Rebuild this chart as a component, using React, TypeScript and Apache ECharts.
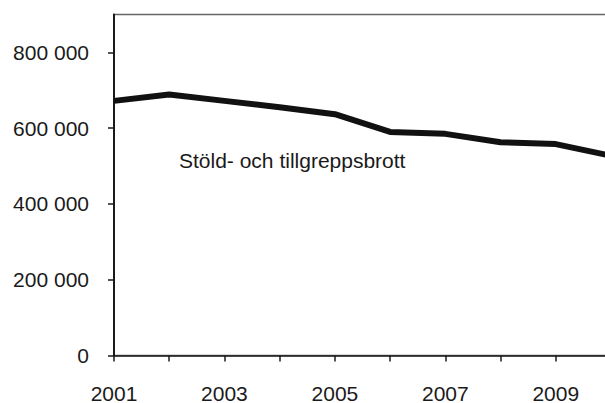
import React, { useEffect, useRef } from "react";
import * as echarts from "echarts";

const years = [2001, 2002, 2003, 2004, 2005, 2006, 2007, 2008, 2009, 2010];
const values = [672000, 689000, 672000, 655000, 637000, 590000, 585000, 563000, 558000, 527000];
const xLabelYears = [2001, 2003, 2005, 2007, 2009];
const yTickValues = [0, 200000, 400000, 600000, 800000];
const seriesName = "Stöld- och tillgreppsbrott";

const fmt = (v: number) => {
  const s = String(Math.round(v));
  return s.replace(/\B(?=(\d{3})+(?!\d))/g, " ");
};

export default function App() {
  const ref = useRef<HTMLDivElement>(null);
  useEffect(() => {
    if (!ref.current) return;
    const chart = echarts.init(ref.current, null, { renderer: "svg" });
    const font = "'Liberation Sans', Arial, sans-serif";
    chart.setOption({
      animation: false,
      backgroundColor: "#ffffff",
      grid: {
        left: 114,
        top: 14.5,
        width: 497,
        height: 341,
        containLabel: false,
        outerBoundsMode: "none",
        show: true,
        borderColor: "#666666",
        borderWidth: 1.5,
        backgroundColor: "transparent",
      },
      xAxis: {
        type: "value",
        min: 2001,
        max: 2010,
        interval: 1,
        axisLine: { show: true, lineStyle: { color: "#1a1a1a", width: 1.5 } },
        axisTick: { show: true, inside: false, length: 6, lineStyle: { color: "#1a1a1a", width: 1.5 } },
        splitLine: { show: false },
        axisLabel: {
          customValues: xLabelYears,
          formatter: (v: number) => String(v),
          fontFamily: font,
          fontSize: 21,
          color: "#1a1a1a",
          margin: 27,
        },
      },
      yAxis: {
        type: "value",
        min: 0,
        max: 900000,
        interval: 200000,
        axisLine: { show: true, lineStyle: { color: "#1a1a1a", width: 2 } },
        axisTick: {
          show: true,
          length: 6,
          customValues: yTickValues,
          lineStyle: { color: "#1a1a1a", width: 1.5 },
        },
        splitLine: { show: false },
        axisLabel: {
          customValues: yTickValues,
          formatter: (v: number) => fmt(v),
          fontFamily: font,
          fontSize: 21,
          color: "#1a1a1a",
          margin: 25,
        },
      },
      graphic: [
        {
          type: "text",
          left: 179,
          top: 150,
          style: {
            text: seriesName,
            fontFamily: font,
            fontSize: 21,
            fill: "#1a1a1a",
          },
        },
      ],
      series: [
        {
          name: seriesName,
          type: "line",
          data: years.map((y, i) => [y, values[i]]),
          showSymbol: false,
          lineStyle: { color: "#111111", width: 6 },
          clip: true,
        },
      ],
    });
    return () => chart.dispose();
  }, []);
  return (
    <div
      ref={ref}
      style={{ position: "fixed", left: 0, top: 0, width: 605, height: 403 }}
    />
  );
}
